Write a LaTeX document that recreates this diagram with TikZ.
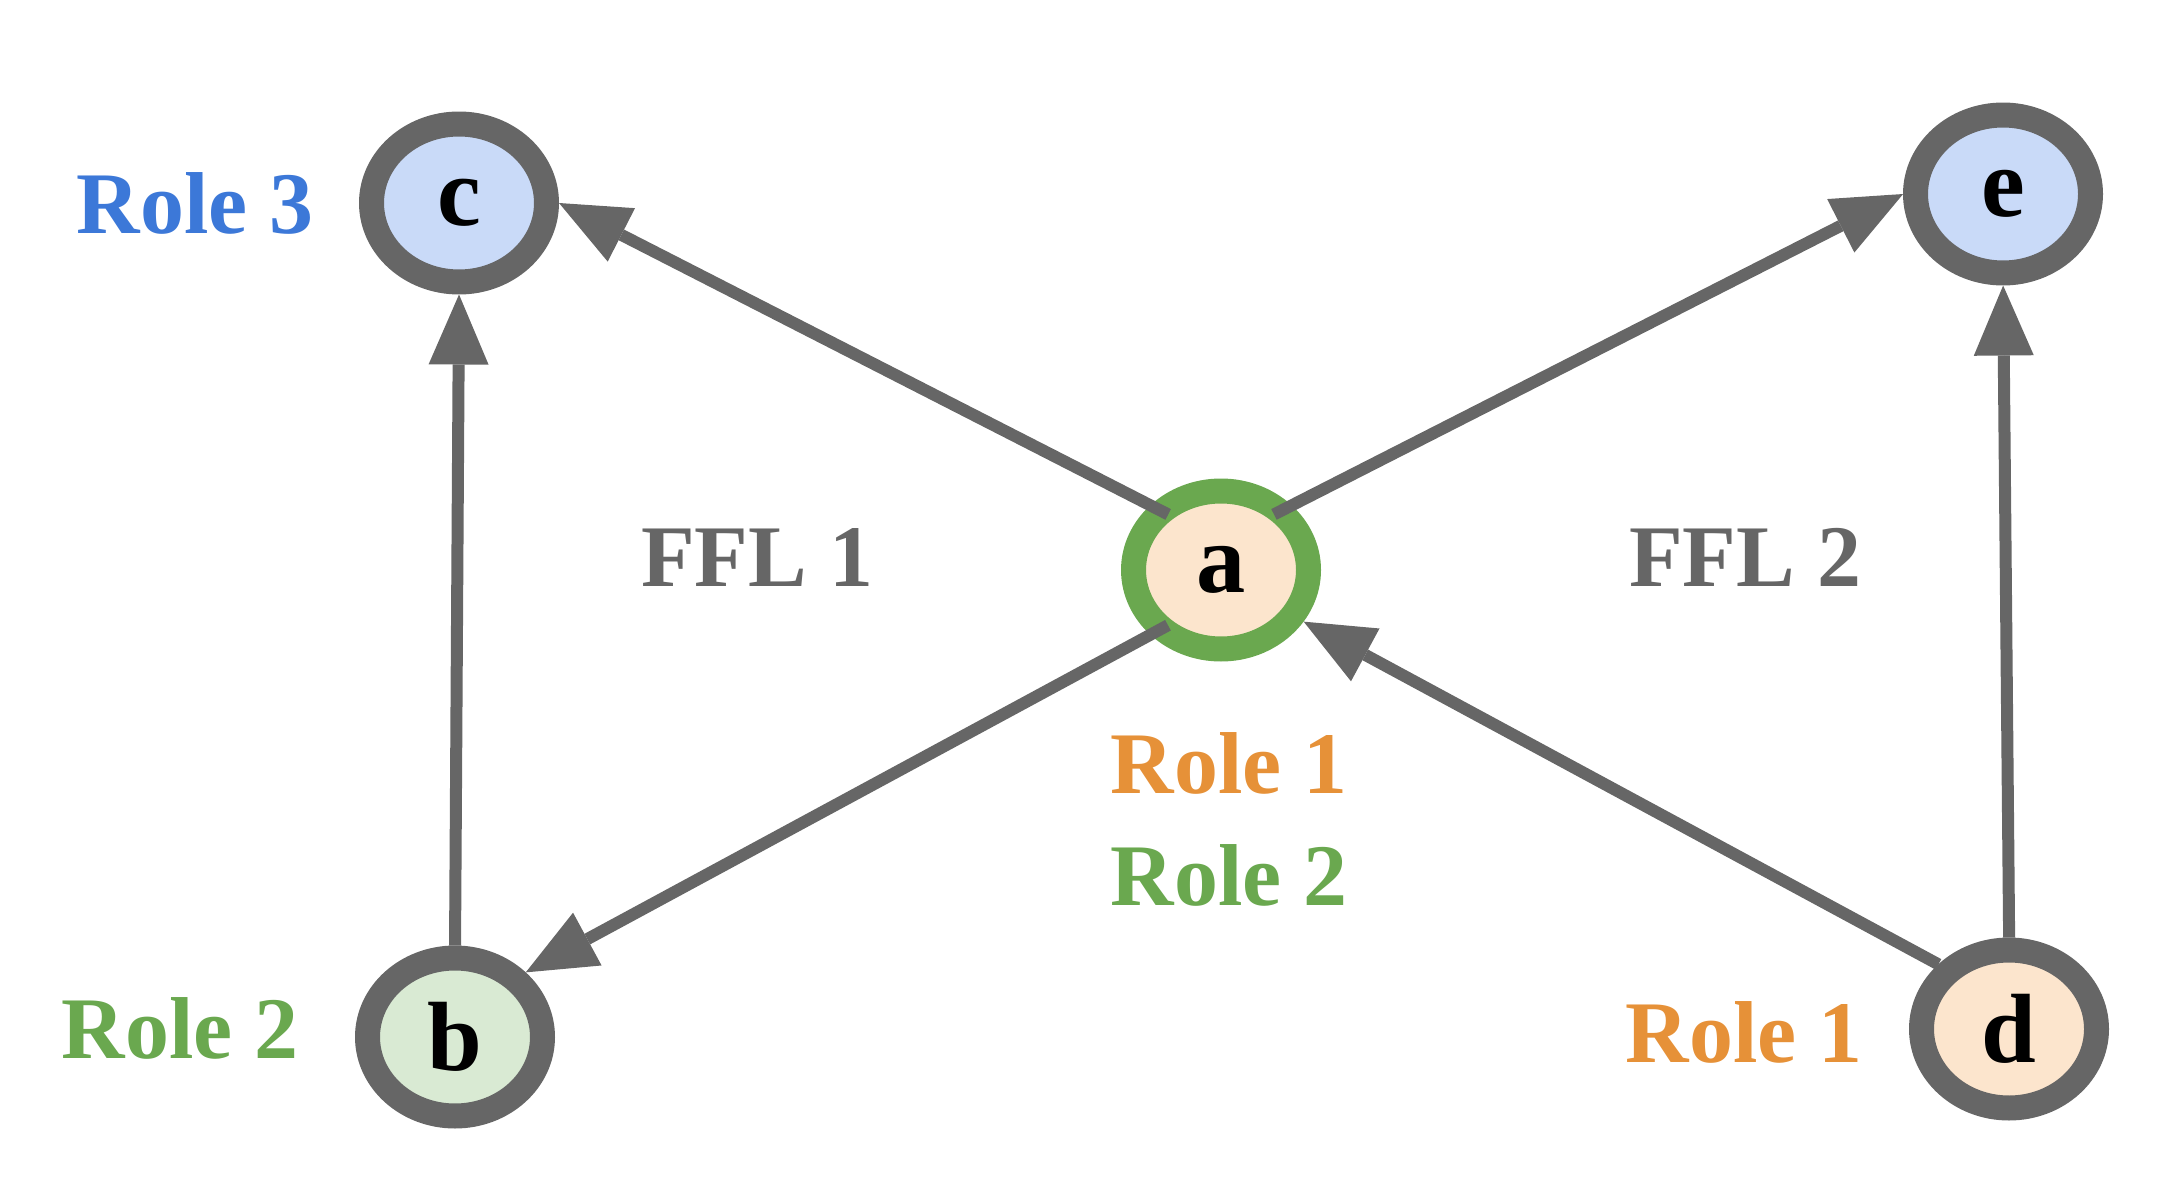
\documentclass[tikz,border=0pt]{standalone}
\usepackage{fontspec}
\setmainfont{Liberation Serif}
\usetikzlibrary{arrows.meta,shapes.geometric}
\definecolor{edgegray}{HTML}{666666}
\definecolor{roleblue}{HTML}{3C78D8}
\definecolor{rolegreen}{HTML}{6AA84F}
\definecolor{roleorange}{HTML}{E69138}
\definecolor{fillblue}{HTML}{C9DAF8}
\definecolor{fillgreen}{HTML}{D9EAD3}
\definecolor{fillorange}{HTML}{FCE5CD}
\begin{document}
\begin{tikzpicture}[scale=0.1,
		vertex/.style={ellipse, draw=edgegray, line width=0.25cm, minimum width=1.75cm, minimum height=1.58cm, font=\fontsize{28}{34}\selectfont\bfseries},
		link/.style={draw=edgegray, line width=0.12cm, -{Triangle[length=0.7cm,width=0.6cm,line width=0pt]}},
		roletext/.style={font=\fontsize{25}{30}\selectfont\bfseries}]
		\tikzstyle{every node}+=[inner sep=0pt]
		\useasboundingbox (0,0) rectangle (216.3,-119.8);
		\node [vertex, fill=fillblue] (c) at (45.9,-20.3) {c};
		\node [vertex, fill=fillblue] (e) at (200.3,-19.4) {e};
		\node [vertex, fill=fillorange, draw=rolegreen] (a) at (122.1,-57.0) {a};
		\node [vertex, fill=fillgreen] (b) at (45.5,-103.7) {b};
		\node [vertex, fill=fillorange] (d) at (200.9,-102.9) {d};
		\draw [link, shorten <=-0.2cm] (a.north west) -- (c.east);
		\draw [link, shorten <=-0.2cm] (a.north east) -- (e.west);
		\draw [link, shorten <=-0.2cm] (a.south west) -- (b.north east);
		\draw [link] (d.north west) -- (a.-32);
		\draw [link] (b.north) -- (c.south);
		\draw [link] (d.north) -- (e.south);
		\node [roletext, text=roleblue] (rc) at (19.5,-20.3) {Role 3};
		\node [roletext, text=rolegreen] (rb) at (18.0,-102.8) {Role 2};
		\node [roletext, text=edgegray] (ffl1) at (75.7,-55.7) {FFL 1};
		\node [roletext, text=edgegray] (ffl2) at (174.5,-55.7) {FFL 2};
		\node [roletext, text=roleorange] (ra1) at (122.9,-76.3) {Role 1};
		\node [roletext, text=rolegreen] (ra2) at (122.9,-87.5) {Role 2};
		\node [roletext, text=roleorange] (rd) at (174.4,-103.2) {Role 1};
\end{tikzpicture}
\end{document}
